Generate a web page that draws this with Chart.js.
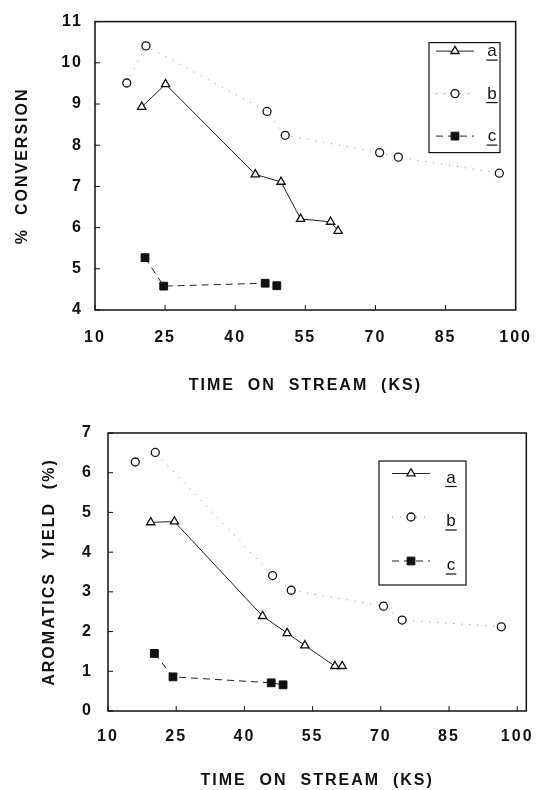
<!DOCTYPE html>
<html lang="en">
<head>
  <meta charset="UTF-8" />
  <title>Conversion and aromatics yield vs time on stream</title>
  <script src="https://cdn.jsdelivr.net/npm/chart.js@4.4.1/dist/chart.umd.min.js"></script>
  <style>
    body {
      margin: 0;
      background: #fff;
    }
    .wrap {
      position: relative;
      width: 547px;
      height: 790px;
    }
    .panel {
      position: absolute;
      left: 0;
      width: 547px;
      height: 395px;
    }
    #top { top: 0; }
    #bottom { top: 395px; }
  </style>
</head>
<body>
  <div class="wrap">
    <div class="panel" id="top"><canvas id="convChart" width="547" height="395"></canvas></div>
    <div class="panel" id="bottom"><canvas id="yieldChart" width="547" height="395"></canvas></div>
  </div>

  <script>
    const xTicks = [10, 25, 40, 55, 70, 85, 100];
    const seriesNames = ["a", "b", "c"];

    // top panel: % conversion
    const aTimeConv = [20.0, 25.1, 44.3, 49.8, 54.0, 60.4, 62.0];
    const aConv = [8.93, 9.48, 7.29, 7.11, 6.21, 6.14, 5.92];
    const bTimeConv = [16.8, 20.9, 46.8, 50.7, 70.9, 74.9, 96.5];
    const bConv = [9.51, 10.41, 8.82, 8.24, 7.82, 7.71, 7.32];
    const cTimeConv = [20.7, 24.7, 46.4, 48.9];
    const cConv = [5.27, 4.58, 4.65, 4.59];

    // bottom panel: aromatics yield (%)
    const aTimeYield = [19.4, 24.6, 44.0, 49.4, 53.3, 59.9, 61.5];
    const aYield = [4.75, 4.77, 2.39, 1.96, 1.65, 1.13, 1.13];
    const bTimeYield = [16.0, 20.4, 46.2, 50.3, 70.6, 74.7, 96.5];
    const bYield = [6.27, 6.51, 3.41, 3.04, 2.64, 2.29, 2.12];
    const cTimeYield = [20.2, 24.3, 45.9, 48.5];
    const cYield = [1.45, 0.86, 0.71, 0.66];

    const ink = "#111";
    const family = "'Liberation Sans', Arial, Helvetica, sans-serif";

    function pts(xs, ys) {
      return xs.map((x, i) => ({ x: x, y: ys[i] }));
    }

    function makeDatasets(aX, aY, bX, bY, cX, cY) {
      return [
        {
          label: seriesNames[0],
          data: pts(aX, aY),
          borderColor: "#222",
          borderWidth: 1,
          pointStyle: "triangle",
          pointRadius: 4.8,
          pointBorderWidth: 1.3,
          pointBorderColor: ink,
          pointBackgroundColor: "#fff",
        },
        {
          label: seriesNames[1],
          data: pts(bX, bY),
          borderColor: "#888",
          borderWidth: 1,
          borderDash: [1, 7],
          pointStyle: "circle",
          pointRadius: 4,
          pointBorderWidth: 1.3,
          pointBorderColor: ink,
          pointBackgroundColor: "#fff",
        },
        {
          label: seriesNames[2],
          data: pts(cX, cY),
          borderColor: "#222",
          borderWidth: 1,
          borderDash: [7, 5],
          pointStyle: "rect",
          pointRadius: 5.5,
          pointBorderWidth: 1,
          pointBorderColor: ink,
          pointBackgroundColor: ink,
        },
      ];
    }

    // frame round the plot plus small inward ticks
    const framePlugin = {
      id: "frame",
      beforeDraw(chart) {
        chart.ctx.letterSpacing = "2px";
      },
      beforeDatasetsDraw(chart) {
        const { ctx, chartArea } = chart;
        const { left, right, top, bottom } = chartArea;
        const xs = chart.scales.x;
        const ys = chart.scales.y;
        ctx.save();
        ctx.strokeStyle = ink;
        ctx.lineWidth = 1.5;
        ctx.strokeRect(left, top, right - left, bottom - top);
        ctx.lineWidth = 1;
        ctx.beginPath();
        xs.ticks.forEach((t) => {
          const px = xs.getPixelForValue(t.value);
          ctx.moveTo(px, bottom);
          ctx.lineTo(px, bottom - 5);
        });
        ys.ticks.forEach((t) => {
          const py = ys.getPixelForValue(t.value);
          ctx.moveTo(left, py);
          ctx.lineTo(left + 5, py);
        });
        ctx.stroke();
        ctx.restore();
      },
    };

    // boxed legend inside the plot
    const boxLegend = {
      id: "boxLegend",
      afterDraw(chart, args, o) {
        const { ctx, chartArea } = chart;
        const bx = chartArea.left + o.dx;
        const by = chartArea.top + o.dy;
        ctx.save();
        ctx.letterSpacing = "0px";
        ctx.strokeStyle = ink;
        ctx.lineWidth = 1.2;
        ctx.strokeRect(bx, by, o.w, o.h);
        chart.data.datasets.forEach((ds, i) => {
          const y = by + o.rows[i];
          const sx = bx + o.symX;
          ctx.beginPath();
          ctx.strokeStyle = ds.borderColor;
          ctx.lineWidth = 1;
          ctx.setLineDash(ds.borderDash || []);
          ctx.moveTo(sx - o.half, y);
          ctx.lineTo(sx + o.half, y);
          ctx.stroke();
          ctx.setLineDash([]);
          ctx.fillStyle = ds.pointBackgroundColor;
          ctx.strokeStyle = ds.pointBorderColor;
          ctx.lineWidth = ds.pointBorderWidth;
          Chart.helpers.drawPoint(
            ctx,
            { pointStyle: ds.pointStyle, radius: ds.pointRadius, borderWidth: ds.pointBorderWidth, rotation: 0 },
            sx,
            y
          );
          ctx.fillStyle = ink;
          ctx.font = "17px " + family;
          ctx.textAlign = "center";
          ctx.textBaseline = "alphabetic";
          const lx = bx + o.labelX;
          const base = y + o.labelDy + 5;
          ctx.fillText(ds.label, lx, base);
          const w = ctx.measureText(ds.label).width;
          ctx.beginPath();
          ctx.lineWidth = 1.2;
          ctx.strokeStyle = ink;
          ctx.moveTo(lx - w / 2 - 1, base + 4);
          ctx.lineTo(lx + w / 2 + 1, base + 4);
          ctx.stroke();
        });
        ctx.restore();
      },
    };

    function buildChart(id, datasets, o) {
      const tickFont = { family: family, size: 16, weight: "bold" };
      const titleFont = { family: family, size: 16, weight: "bold", lineHeight: 1.2 };
      return new Chart(document.getElementById(id), {
        type: "line",
        data: { datasets: datasets },
        options: {
          responsive: false,
          animation: false,
          devicePixelRatio: 1,
          layout: { padding: { left: 0, top: o.padTop, right: o.padRight, bottom: 0 } },
          plugins: {
            legend: { display: false },
            tooltip: { enabled: false },
            boxLegend: o.legend,
          },
          scales: {
            x: {
              type: "linear",
              min: 10,
              max: o.xMax,
              afterBuildTicks: (s) => {
                s.ticks = xTicks.map((v) => ({ value: v }));
              },
              afterFit: (s) => {
                s.height = o.xHeight;
              },
              grid: { display: false, drawTicks: false },
              border: { display: false },
              ticks: { color: ink, font: tickFont, padding: o.xTickPad, maxRotation: 0, autoSkip: false },
              title: {
                display: true,
                text: "TIME  ON  STREAM  (KS)",
                color: ink,
                font: titleFont,
                padding: { top: 0, bottom: o.xTitlePad },
              },
            },
            y: {
              min: o.yMin,
              max: o.yMax,
              afterFit: (s) => {
                s.width = o.yWidth;
              },
              grid: { display: false, drawTicks: false },
              border: { display: false },
              ticks: { stepSize: 1, color: ink, font: tickFont, padding: o.yTickPad },
              title: {
                display: true,
                text: o.yTitle,
                color: ink,
                font: titleFont,
                padding: { top: o.yTitlePad, bottom: 0 },
              },
            },
          },
        },
        plugins: [framePlugin, boxLegend],
      });
    }

    buildChart("convChart", makeDatasets(aTimeConv, aConv, bTimeConv, bConv, cTimeConv, cConv), {
      padTop: 18,
      padRight: 22,
      xMax: 100,
      xHeight: 85,
      xTickPad: 18,
      xTitlePad: 0,
      yMin: 4,
      yMax: 11,
      yWidth: 95,
      yTickPad: 12,
      yTitle: "%  CONVERSION",
      yTitlePad: 13,
      legend: { dx: 334, dy: 21, w: 71, h: 110, rows: [8.5, 51, 93.5], symX: 26, half: 19, labelX: 63, labelDy: 0 },
    });

    buildChart("yieldChart", makeDatasets(aTimeYield, aYield, bTimeYield, bYield, cTimeYield, cYield), {
      padTop: 38,
      padRight: 20,
      xMax: 102,
      xHeight: 79,
      xTickPad: 16,
      xTitlePad: 0,
      yMin: 0,
      yMax: 7,
      yWidth: 108,
      yTickPad: 15,
      yTitle: "AROMATICS  YIELD  (%)",
      yTitlePad: 40,
      legend: { dx: 271, dy: 28, w: 87, h: 124, rows: [12.5, 56, 100], symX: 32, half: 19, labelX: 72, labelDy: 4 },
    });
  </script>
</body>
</html>
